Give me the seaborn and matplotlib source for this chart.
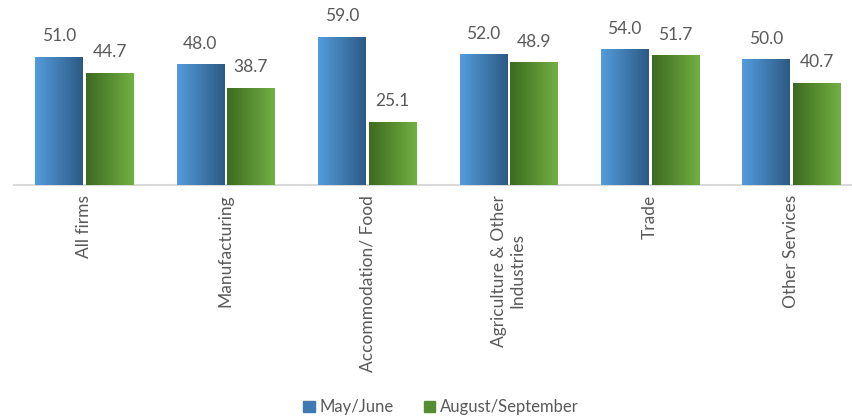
import matplotlib
matplotlib.use('Agg')
import matplotlib.pyplot as plt
import matplotlib.patches as mpatches
from matplotlib.colors import LinearSegmentedColormap
import seaborn as sns
import pandas as pd
import numpy as np

categories = ["All firms", "Manufacturing", "Accommodation/ Food",
              "Agriculture & Other\nIndustries", "Trade", "Other Services"]
may_june = [51.0, 48.0, 59.0, 52.0, 54.0, 50.0]
aug_sep = [44.7, 38.7, 25.1, 48.9, 51.7, 40.7]
series = ["May/June", "August/September"]

df = pd.DataFrame({
    "category": categories * 2,
    "value": may_june + aug_sep,
    "period": [series[0]] * len(categories) + [series[1]] * len(categories),
})

sns.set_theme(style="white")
plt.rcParams['font.family'] = ['Lato', 'DejaVu Sans']
text_color = "#595959"

# gradient colours (left -> right)
grads = {
    series[0]: ["#549CDD", "#2C5A84"],
    series[1]: ["#3D6A20", "#72B043"],
}
mid = {series[0]: "#3F7AB2", series[1]: "#568C32"}

fig = plt.figure(figsize=(8.53, 4.19), dpi=100)
ax = fig.add_axes([13.6 / 853, 1 - 185 / 419, 848.4 / 853, 175 / 419])

sns.barplot(data=df, x="category", y="value", hue="period", order=categories,
            hue_order=series, palette=mid, width=0.716, gap=0.07,
            legend=False, ax=ax)

for container, name in zip(ax.containers, series):
    cmap = LinearSegmentedColormap.from_list(name, grads[name])
    grad = np.linspace(0, 1, 256).reshape(1, -1)
    for bar in container:
        x0, y0 = bar.get_x(), bar.get_y()
        w, h = bar.get_width(), bar.get_height()
        im = ax.imshow(grad, cmap=cmap, aspect='auto',
                       extent=[x0, x0 + w, y0, y0 + h], zorder=3)
        im.set_clip_path(bar)
    ax.bar_label(container, fmt="%.1f", padding=9, fontsize=12.5,
                 color=text_color)

ax.set_xlim(-0.5, len(categories) - 0.5)
ax.set_ylim(0, 69.7)

for s in ["top", "right", "left"]:
    ax.spines[s].set_visible(False)
ax.spines["bottom"].set_color("#D9D9D9")
ax.spines["bottom"].set_linewidth(1.5)
ax.set_yticks([])
ax.set_xlabel("")
ax.set_ylabel("")
ax.tick_params(axis="x", length=0, pad=7)
ax.set_xticks(range(len(categories)))
ax.set_xticklabels(categories, rotation=90, fontsize=12.5, color=text_color,
                   ha="center", va="top", multialignment="center")

handles = [mpatches.Patch(color=mid[s], label=s) for s in series]
fig.legend(handles=handles, loc="lower center", bbox_to_anchor=(0.517, -0.027),
           ncol=2, frameon=False, fontsize=12, handlelength=0.7,
           handleheight=0.7, handletextpad=0.3, columnspacing=1.8,
           labelcolor=text_color)

fig.savefig("out.png", dpi=100)
plt.close(fig)
